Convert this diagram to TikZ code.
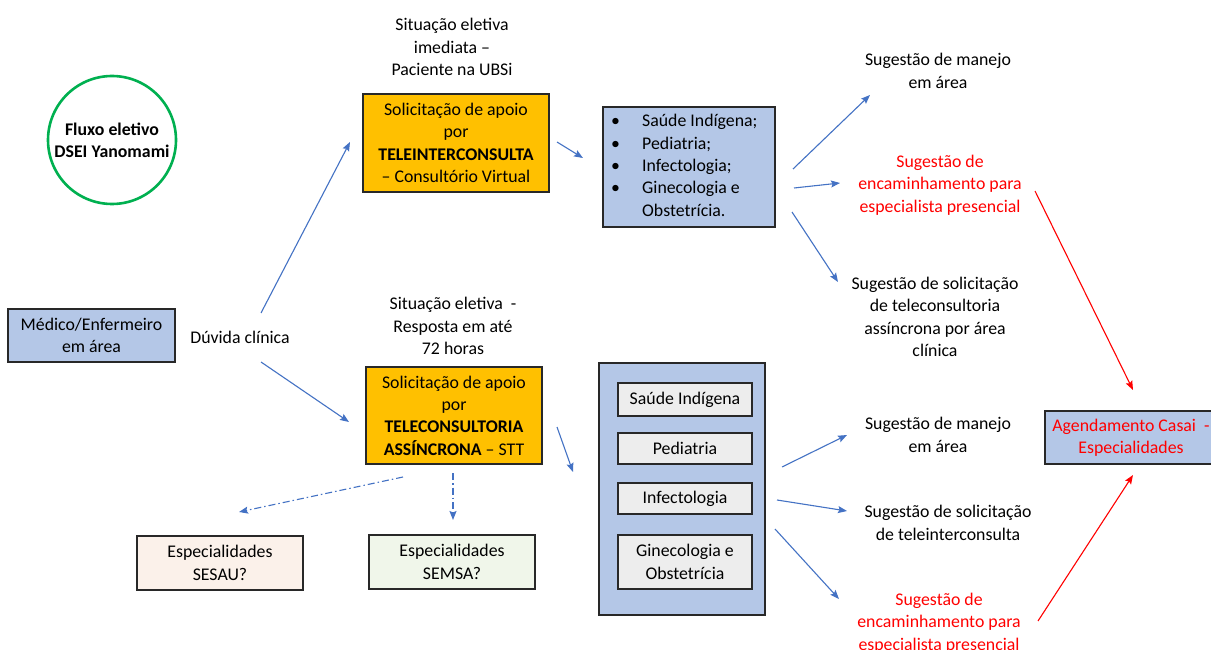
\documentclass[tikz,border=0pt]{standalone}
\usepackage{fontspec}
\setmainfont{Carlito}
\usetikzlibrary{arrows.meta}
\definecolor{boxblue}{RGB}{180,199,231}
\definecolor{ygold}{RGB}{255,192,0}
\definecolor{arrblue}{RGB}{68,114,196}
\definecolor{cgreen}{RGB}{0,176,80}
\definecolor{peach}{RGB}{251,241,234}
\definecolor{lgreen}{RGB}{240,246,234}
\definecolor{lgray}{RGB}{237,237,237}
\definecolor{bord}{RGB}{40,40,40}
\begin{document}
\begin{tikzpicture}[x=1pt,y=-1pt,
  font=\fontsize{17.8}{22.3}\selectfont,
  box/.style={draw=bord, line width=1.1pt, inner sep=0pt, align=center},
  lbl/.style={inner sep=0pt, align=center},
  arr/.style={arrblue, line width=1.1pt, -{Stealth[length=9pt,width=7pt,inset=1.5pt]}},
  rarr/.style={red, line width=1.1pt, -{Stealth[length=9pt,width=7pt,inset=1.5pt]}},
  dd/.style={arr, dash pattern=on 7pt off 3pt on 1.5pt off 3pt}]
\clip (0,0) rectangle (1211,650);
\fill[white] (0,0) rectangle (1211,650);

% left
\node[circle, draw=cgreen, line width=2.6pt, minimum size=128pt, inner sep=0pt, align=center, font=\fontsize{17.8}{22.3}\selectfont\bfseries] (flux) at (112,140) {Fluxo eletivo\\DSEI Yanomami};
\node[box, fill=boxblue, minimum width=167pt, minimum height=53pt] (med) at (91.5,335.5) {Médico/Enfermeiro\\em área};
\node[lbl] (duv) at (240,337) {Dúvida clínica};

% top branch
\node[lbl] (sit1) at (452,47) {Situação eletiva\\imediata –\\Paciente na UBSi};
\node[box, fill=ygold, minimum width=186pt, minimum height=98pt] (tic) at (456,143) {Solicitação de apoio\\por\\\textbf{TELEINTERCONSULTA}\\– Consultório Virtual};
\node[box, fill=boxblue, minimum width=172pt, minimum height=120pt] (bul) at (689,167) {};
\node[lbl, anchor=west] (bultxt) at (611,167) {\begin{tabular}{@{}p{31pt}@{}l@{}}
\textbullet & Saúde Indígena;\\
\textbullet & Pediatria;\\
\textbullet & Infectologia;\\
\textbullet & Ginecologia e\\
 & Obstetrícia.
\end{tabular}};
\node[lbl] (man1) at (938,71) {Sugestão de manejo\\em área};
\node[lbl, text=red] (enc1) at (940,185) {Sugestão de\\encaminhamento para\\especialista presencial};
\node[lbl] (sol1) at (935,317) {Sugestão de solicitação\\de teleconsultoria\\assíncrona por área\\clínica};

% bottom branch
\node[lbl] (sit2) at (453,326) {Situação eletiva~ -\\Resposta em até\\72 horas};
\node[box, fill=ygold, minimum width=176pt, minimum height=97pt] (tca) at (454,415.5) {Solicitação de apoio\\por\\\textbf{TELECONSULTORIA}\\\textbf{ASSÍNCRONA} – STT};
\node[box, fill=boxblue, minimum width=166pt, minimum height=252pt] (cont) at (682,489) {};
\node[box, fill=lgray, minimum width=134pt, minimum height=33pt] (sau) at (685,399.5) {Saúde Indígena};
\node[box, fill=lgray, minimum width=134pt, minimum height=31pt] (ped) at (685,448.5) {Pediatria};
\node[box, fill=lgray, minimum width=134pt, minimum height=31pt] (inf) at (685,498.5) {Infectologia};
\node[box, fill=lgray, minimum width=134pt, minimum height=54pt] (gin) at (685,562) {Ginecologia e\\Obstetrícia};
\node[lbl] (man2) at (938,435) {Sugestão de manejo\\em área};
\node[lbl] (sol2) at (948,523) {Sugestão de solicitação\\de teleinterconsulta};
\node[lbl, text=red] (enc2) at (939,623) {Sugestão de\\encaminhamento para\\especialista presencial};
\node[box, fill=peach, minimum width=166pt, minimum height=54pt] (sesau) at (220,563) {Especialidades\\SESAU?};
\node[box, fill=lgreen, minimum width=166pt, minimum height=54pt] (semsa) at (452,562) {Especialidades\\SEMSA?};

% right
\node[box, fill=boxblue, minimum width=172pt, minimum height=53pt, text=red] (age) at (1131,437.5) {Agendamento Casai~ -\\Especialidades};

% connector end points
\coordinate (a1s) at (261,313); \coordinate (a1e) at (350,142);
\coordinate (a2s) at (261,362); \coordinate (a2e) at (349,422);
\coordinate (a3s) at (557,142); \coordinate (a3e) at (583,158);
\coordinate (a4s) at (793,169); \coordinate (a4e) at (870,95);
\coordinate (a5s) at (794,188); \coordinate (a5e) at (840,183);
\coordinate (a6s) at (792,212); \coordinate (a6e) at (838,282);
\coordinate (a7s) at (557,427); \coordinate (a7e) at (573,472);
\coordinate (a8s) at (782,467); \coordinate (a8e) at (847,435);
\coordinate (a9s) at (777,500); \coordinate (a9e) at (847,511);
\coordinate (a10s) at (775,529); \coordinate (a10e) at (839,599);
\coordinate (d1s) at (403,477); \coordinate (d1e) at (239,512);
\coordinate (d2s) at (453,473); \coordinate (d2e) at (453,520);
\coordinate (r1s) at (1035,191); \coordinate (r1e) at (1133,390);
\coordinate (r2s) at (1038,621); \coordinate (r2e) at (1133,475);

\draw[arr] (a1s) -- (a1e);
\draw[arr] (a2s) -- (a2e);
\draw[arr] (a3s) -- (a3e);
\draw[arr] (a4s) -- (a4e);
\draw[arr] (a5s) -- (a5e);
\draw[arr] (a6s) -- (a6e);
\draw[arr] (a7s) -- (a7e);
\draw[arr] (a8s) -- (a8e);
\draw[arr] (a9s) -- (a9e);
\draw[arr] (a10s) -- (a10e);
\draw[dd] (d1s) -- (d1e);
\draw[dd] (d2s) -- (d2e);
\draw[rarr] (r1s) -- (r1e);
\draw[rarr] (r2s) -- (r2e);
\end{tikzpicture}
\end{document}
